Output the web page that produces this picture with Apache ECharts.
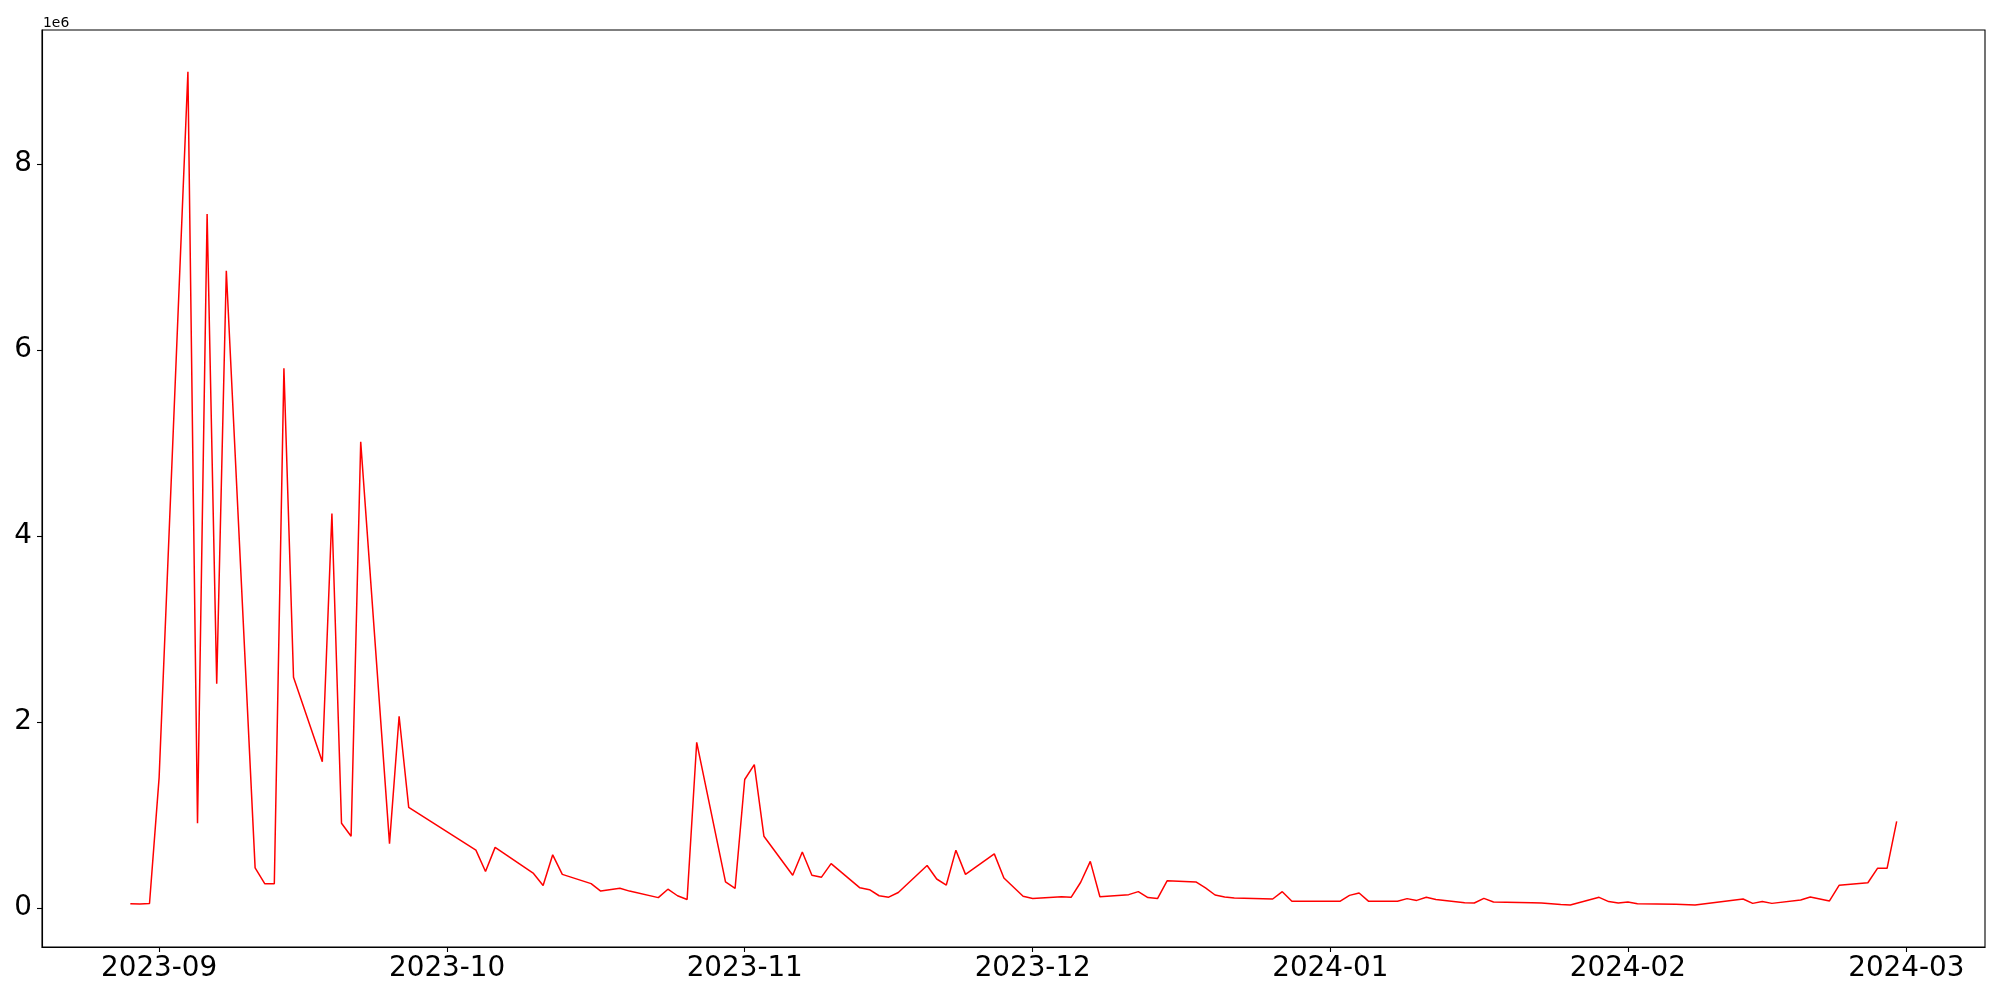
<!DOCTYPE html>
<html>
<head>
<meta charset="utf-8">
<script src="https://cdn.jsdelivr.net/npm/echarts@6/dist/echarts.min.js"></script>
<style>
html,body{margin:0;padding:0;background:#fff;}
#chart{width:2000px;height:1000px;}
</style>
</head>
<body>
<div id="chart"></div>
<script>
// ---- data ----
const dates = [
  '2023-08-29','2023-08-30','2023-08-31','2023-09-01','2023-09-04','2023-09-05','2023-09-06','2023-09-07','2023-09-08',
  '2023-09-11','2023-09-12','2023-09-13','2023-09-14','2023-09-15','2023-09-18','2023-09-19','2023-09-20','2023-09-21',
  '2023-09-22','2023-09-25','2023-09-26','2023-09-27','2023-10-04','2023-10-05','2023-10-06','2023-10-10','2023-10-11',
  '2023-10-12','2023-10-13','2023-10-16','2023-10-17','2023-10-19','2023-10-20','2023-10-23','2023-10-24','2023-10-25',
  '2023-10-26','2023-10-27','2023-10-30','2023-10-31','2023-11-01','2023-11-02','2023-11-03','2023-11-06','2023-11-07',
  '2023-11-08','2023-11-09','2023-11-10','2023-11-13','2023-11-14','2023-11-15','2023-11-16','2023-11-17','2023-11-20',
  '2023-11-21','2023-11-22','2023-11-23','2023-11-24','2023-11-27','2023-11-28','2023-11-30','2023-12-01','2023-12-04',
  '2023-12-05','2023-12-06','2023-12-07','2023-12-08','2023-12-11','2023-12-12','2023-12-13','2023-12-14','2023-12-15',
  '2023-12-18','2023-12-19','2023-12-20','2023-12-21','2023-12-22','2023-12-26','2023-12-27','2023-12-28','2024-01-02',
  '2024-01-03','2024-01-04','2024-01-05','2024-01-08','2024-01-09','2024-01-10','2024-01-11','2024-01-12','2024-01-15',
  '2024-01-16','2024-01-17','2024-01-18','2024-01-22','2024-01-23','2024-01-24','2024-01-25','2024-01-26','2024-01-29',
  '2024-01-30','2024-01-31','2024-02-01','2024-02-02','2024-02-06','2024-02-08','2024-02-13','2024-02-14',
  '2024-02-15','2024-02-16','2024-02-19','2024-02-20','2024-02-22','2024-02-23','2024-02-26','2024-02-27','2024-02-28',
  '2024-02-29'
];
const values = [
  45000, 40000, 47000, 1400000, 8990000, 910000, 7460000, 2410000, 6850000,
  430000, 260000, 260000, 5800000, 2480000, 1570000, 4240000, 910000, 770000,
  5010000, 690000, 2060000, 1080000, 620000, 390000, 650000, 370000, 240000,
  570000, 360000, 260000, 180000, 210000, 180000, 110000, 200000, 130000,
  90000, 1780000, 280000, 210000, 1380000, 1540000, 770000, 350000, 600000,
  350000, 330000, 475000, 215000, 195000, 130000, 115000, 165000, 455000,
  310000, 245000, 620000, 360000, 580000, 320000, 125000, 100000, 120000,
  113000, 275000, 500000, 120000, 142000, 174000, 110000, 100000, 290000,
  278000, 214000, 138000, 117000, 106000, 95000, 174000, 70000, 70000,
  134000, 160000, 70000, 70000, 99000, 80000, 113000, 90000, 56000,
  52000, 102000, 63000, 55000, 52000, 45000, 36000, 31000, 113000,
  67000, 52000, 63000, 45000, 38000, 31000, 95000, 48000,
  67000, 48000, 85000, 117000, 74000, 242000, 270000, 425000, 425000,
  930000
];
const xTickDates = ['2023-09-01','2023-10-01','2023-11-01','2023-12-01','2024-01-01','2024-02-01','2024-03-01'];
const yTickValues = [0, 2000000, 4000000, 6000000, 8000000];

// ---- build ----
function toTs(s){ const p = s.split('-').map(Number); return Date.UTC(p[0], p[1]-1, p[2]); }
const seriesData = dates.map((d,i) => [toTs(d), values[i]]);
const xTicks = xTickDates.map(toTs);
const firstTs = toTs(dates[0]), lastTs = toTs(dates[dates.length-1]);
const span = lastTs - firstTs;
const FONT = 'DejaVu Sans';

const chart = echarts.init(document.getElementById('chart'), null, {renderer:'canvas'});
chart.setOption({
  animation: false,
  backgroundColor: '#ffffff',
  grid: {left: 42, right: 15, top: 30, bottom: 53, containLabel: false,
         show: true, borderColor: '#000', borderWidth: 1.1, backgroundColor: 'transparent'},
  graphic: [{type: 'text', left: 43, top: 16,
             style: {text: '1e6', font: '13.9px "DejaVu Sans"', fill: '#000'}}],
  xAxis: {
    type: 'value',
    min: firstTs - span*0.05,
    max: lastTs + span*0.05,
    axisLine: {show: true, onZero: false, lineStyle: {color: '#000', width: 1.1}},
    axisTick: {show: true, length: 5, lineStyle: {color: '#000', width: 1.1}, customValues: xTicks},
    axisLabel: {show: true, color: '#000', fontFamily: FONT, fontSize: 27.8, margin: 8,
                customValues: xTicks, hideOverlap: false, showMinLabel: true, showMaxLabel: true,
                formatter: function(v){ const d = new Date(v); return d.getUTCFullYear() + '-' + String(d.getUTCMonth()+1).padStart(2,'0'); }},
    splitLine: {show: false}
  },
  yAxis: {
    type: 'value',
    min: -421000,
    max: 9438000,
    axisLine: {show: true, onZero: false, lineStyle: {color: '#000', width: 1.1}},
    axisTick: {show: true, length: 5, lineStyle: {color: '#000', width: 1.1}, customValues: yTickValues},
    axisLabel: {show: true, color: '#000', fontFamily: FONT, fontSize: 27.8, margin: 10,
                customValues: yTickValues,
                formatter: function(v){ return String(Math.round(v/1e6)); }},
    splitLine: {show: false}
  },
  series: [{
    type: 'line',
    data: seriesData,
    showSymbol: false,
    symbol: 'none',
    lineStyle: {color: '#ff0000', width: 1.5},
    itemStyle: {color: '#ff0000'},
    emphasis: {disabled: true}
  }]
});
</script>
</body>
</html>
